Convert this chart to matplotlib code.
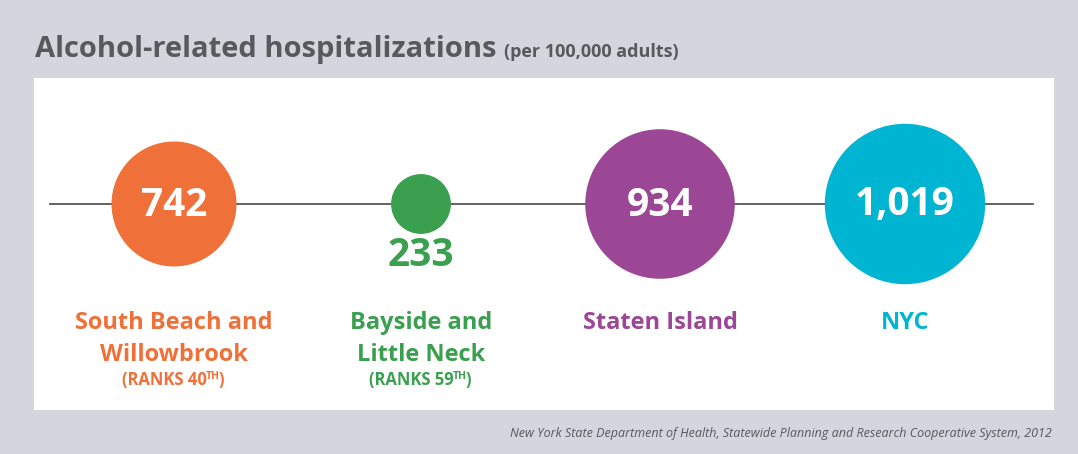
import matplotlib
matplotlib.use("Agg")
import matplotlib.pyplot as plt
from matplotlib.patches import Circle, Rectangle

# data
areas = ["South Beach and\nWillowbrook", "Bayside and\nLittle Neck", "Staten Island", "NYC"]
values = [742, 233, 934, 1019]
ranks = ["40", "59", None, None]
colors = ["#f07039", "#3aa04f", "#9c4795", "#00b5d1"]

title = "Alcohol-related hospitalizations"
subtitle = "(per 100,000 adults)"
source = "New York State Department of Health, Statewide Planning and Research Cooperative System, 2012"

plt.rcParams['font.family'] = ['Open Sans', 'DejaVu Sans']

W, H = 1078, 454
fig = plt.figure(figsize=(W / 100, H / 100), dpi=100)
fig.patch.set_facecolor("#d3d6dd")
ax = fig.add_axes([0, 0, 1, 1])
ax.set_xlim(0, W)
ax.set_ylim(H, 0)
ax.axis("off")

# white panel
ax.add_patch(Rectangle((34, 78), 1020, 332, facecolor="white", edgecolor="none", zorder=0))

# line through circles
line_y = 204
ax.plot([50, 1033], [line_y, line_y], color="#555555", lw=1.3, zorder=1)

# title
t = ax.text(35, 57, title, fontsize=21, fontweight="bold", color="#58595b", va="baseline")
fig.canvas.draw()
rend = fig.canvas.get_renderer()
bb = t.get_window_extent(rend)
ax.text(bb.x1 + 7, 57, subtitle, fontsize=13, fontweight="bold", color="#58595b", va="baseline")

centers = [174, 421, 660, 905]
for x, v, name, rk, c in zip(centers, values, areas, ranks, colors):
    r = 15 + 0.064 * v  # radius grows with the value
    ax.add_patch(Circle((x, line_y), r, facecolor=c, edgecolor="none", zorder=2))
    lab = f"{v:,}"
    if r > 40:
        ax.text(x, line_y + 1, lab, fontsize=28, fontweight="bold", color="white",
                ha="center", va="center", zorder=3)
    else:
        ax.text(x, line_y + r + 22, lab, fontsize=28, fontweight="bold", color=c,
                ha="center", va="center", zorder=3)
    ax.text(x, 311, name, fontsize=17, fontweight="bold", color=c,
            ha="center", va="top", linespacing=1.45)
    if rk:
        # "(RANKS 40" + superscript "TH" + ")", centred as a group
        parts = [("(RANKS " + rk, 12, 0), ("TH", 7.5, -6), (")", 12, 0)]
        widths = []
        for s, fs, dy in parts:
            tmp = ax.text(0, 0, s, fontsize=fs, fontweight="bold")
            e = tmp.get_window_extent(rend)
            widths.append(e.width)
            tmp.remove()
        xs = x - sum(widths) / 2
        for (s, fs, dy), w in zip(parts, widths):
            ax.text(xs, 385 + dy, s, fontsize=fs, fontweight="bold", color=c,
                    ha="left", va="baseline")
            xs += w - 1

ax.text(1052, 437, source, fontsize=9, style="italic", color="#58595b", ha="right", va="baseline")

fig.savefig("out.png", dpi=100, facecolor=fig.get_facecolor())
